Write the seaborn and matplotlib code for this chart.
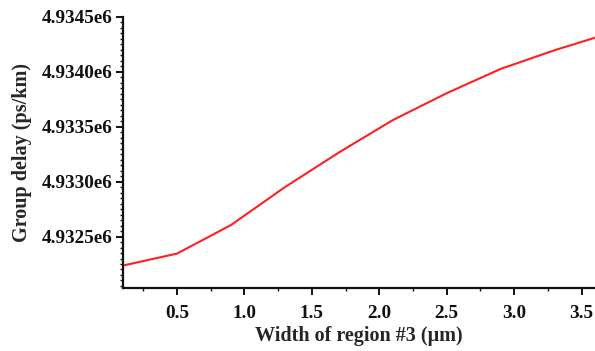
import matplotlib
matplotlib.use("Agg")
import matplotlib.pyplot as plt
import seaborn as sns
import pandas as pd
from matplotlib.ticker import MultipleLocator, FixedLocator

width_um = [0.1, 0.5, 0.9, 1.3, 1.7, 2.1, 2.5, 2.9, 3.3, 3.6]
group_delay = [4932236, 4932345, 4932605, 4932950, 4933265, 4933560,
               4933805, 4934026, 4934196, 4934310]

xticks = [0.5, 1.0, 1.5, 2.0, 2.5, 3.0, 3.5]
xtick_labels = ["0.5", "1.0", "1.5", "2.0", "2.5", "3.0", "3.5"]
yticks = [4932500, 4933000, 4933500, 4934000, 4934500]
ytick_labels = ["4.9325e6", "4.9330e6", "4.9335e6", "4.9340e6", "4.9345e6"]

df = pd.DataFrame({"w": width_um, "d": group_delay})

sns.set_theme(style="ticks")
plt.rcParams["font.family"] = ["Liberation Serif", "DejaVu Serif"]
plt.rcParams["font.weight"] = "bold"

fig = plt.figure(figsize=(5.95, 3.51), dpi=100)
ax = fig.add_axes([0.207, 0.179, 0.793, 0.773])

sns.lineplot(data=df, x="w", y="d", ax=ax, color="#ff2020", linewidth=1.5)

ax.set_xlim(0.1, 3.6)
ax.set_ylim(4932030, 4934500)
ax.xaxis.set_major_locator(FixedLocator(xticks))
ax.set_xticklabels(xtick_labels)
ax.xaxis.set_minor_locator(MultipleLocator(0.25))
ax.yaxis.set_major_locator(FixedLocator(yticks))
ax.set_yticklabels(ytick_labels)
ax.yaxis.set_minor_locator(MultipleLocator(50))

for s in ["top", "right"]:
    ax.spines[s].set_visible(False)
for s in ["left", "bottom"]:
    ax.spines[s].set_linewidth(1.6)
    ax.spines[s].set_color("#111111")

ax.tick_params(axis="both", which="major", direction="out", length=5, width=1.4,
               labelsize=13.8, colors="#111111")
ax.tick_params(axis="x", which="major", pad=7)
ax.tick_params(axis="y", which="major", pad=3)
ax.tick_params(axis="both", which="minor", direction="out", length=2.5, width=1.0,
               colors="#111111")
for lab in ax.get_xticklabels() + ax.get_yticklabels():
    lab.set_fontweight("bold")

ax.set_xlabel("Width of region #3 (μm)", fontsize=14.5, fontweight="bold", labelpad=3)
ax.set_ylabel("Group delay (ps/km)", fontsize=14.5, fontweight="bold", labelpad=7)
ax.grid(False)

fig.savefig("out.png", dpi=100)
